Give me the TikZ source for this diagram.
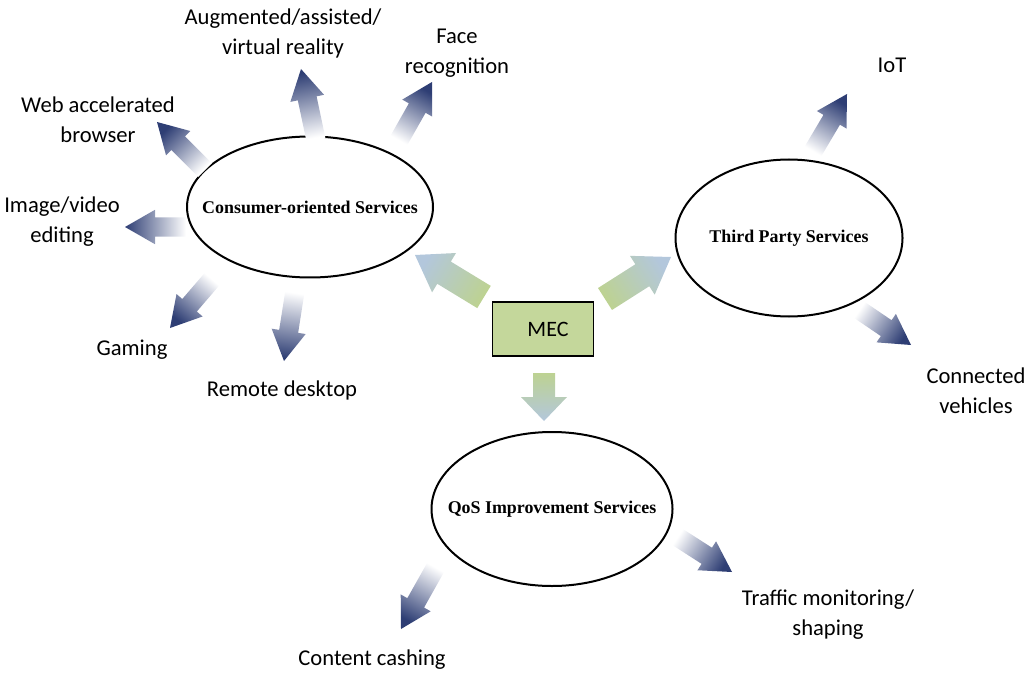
\documentclass[tikz,border=0pt]{standalone}
\usepackage{fontspec}
\setmainfont{Liberation Serif}
\newfontfamily\calfont{Carlito}
\usetikzlibrary{shapes.geometric,calc}

\definecolor{navy}{HTML}{2E3E74}
\definecolor{mecgreen}{HTML}{C4D79B}
\definecolor{arrgreen}{HTML}{BDD292}
\definecolor{arrblue}{HTML}{B3C7DC}

% block arrow from #1 (tail) to #2 (tip); #3 shaft half width, #4 head half width,
% #5 head length, #6 shading colours (bottom = tail, top = tip)
\newcommand\blockarrow[6]{%
  \pgfmathanglebetweenpoints{\pgfpointanchor{#1}{center}}{\pgfpointanchor{#2}{center}}%
  \pgfmathsetmacro\barang{\pgfmathresult-90}%
  \coordinate (#1-base) at ($(#2)!#5!(#1)$);
  \shade[#6, shading angle=\barang]
    ($(#1)!#3!90:(#2)$) -- ($(#1-base)!#3!90:(#2)$) -- ($(#1-base)!#4!90:(#2)$) -- (#2)
    -- ($(#1-base)!#4!-90:(#2)$) -- ($(#1-base)!#3!-90:(#2)$) -- ($(#1)!#3!-90:(#2)$) -- cycle;
}

\tikzset{
  lbl/.style={font=\calfont\fontsize{11.3}{15}\selectfont, align=center, inner sep=0pt},
  service/.style={ellipse, draw, line width=1pt, inner sep=0pt},
  servicetext/.style={font=\fontsize{8.95}{10}\selectfont\bfseries, inner sep=0pt},
  navyshade/.style={bottom color=white, top color=navy},
  greenshade/.style={bottom color=arrgreen, top color=arrblue},
}

\begin{document}
\begin{tikzpicture}[x=0.5pt,y=-0.5pt]
\useasboundingbox (0,0) rectangle (1026,673);

% service ellipses
\node[service, minimum width=123pt, minimum height=70.5pt,
      label={[servicetext]center:Consumer-oriented Services}] (cons) at (310,207) {};
\node[service, minimum width=113.5pt, minimum height=78.5pt,
      label={[servicetext]center:Third Party Services}] (third) at (789,238) {};
\node[service, minimum width=120.5pt, minimum height=77pt,
      label={[servicetext]center:QoS Improvement Services}] (qos) at (552,509) {};

% MEC box
\node[draw, line width=0.75pt, fill=mecgreen, minimum width=50.5pt, minimum height=27pt,
      inner sep=0pt, font=\calfont\fontsize{11}{13}\selectfont] (mec) at (543,329) {\hspace{5pt}MEC};

% labels
\node[lbl] (ar) at (283,33) {Augmented/assisted/\\virtual reality};
\node[lbl] (face) at (457,53) {Face\\recognition};
\node[lbl] (web) at (98,120) {Web accelerated\\browser};
\node[lbl] (img) at (62,222) {Image/video\\editing};
\node[lbl] (gaming) at (132,350) {Gaming};
\node[lbl] (remote) at (282,390) {Remote desktop};
\node[lbl] (iot) at (892,65) {IoT};
\node[lbl] (veh) at (976,391) {Connected\\vehicles};
\node[lbl] (traffic) at (828,615) {Traffic monitoring/\\shaping};
\node[lbl] (content) at (372,660) {Content cashing};

% arrow end points
\coordinate (g1t) at (484,297); \coordinate (g1h) at (415,255);
\coordinate (g2t) at (605,299); \coordinate (g2h) at (671,257);
\coordinate (g3t) at (544,373); \coordinate (g3h) at (544,421);

\coordinate (webt) at (205,170); \coordinate (webh) at (157,122);
\coordinate (art) at (316,140); \coordinate (arh) at (301,69);
\coordinate (facet) at (398,142); \coordinate (faceh) at (432,82);
\coordinate (imgt) at (186,227); \coordinate (imgh) at (125,227);
\coordinate (gamt) at (213,278); \coordinate (gamh) at (170,328);
\coordinate (remt) at (295,291); \coordinate (remh) at (284,361);
\coordinate (iott) at (812,153); \coordinate (ioth) at (847,94);
\coordinate (veht) at (858,309); \coordinate (vehh) at (911,345);
\coordinate (cont) at (437,565); \coordinate (conh) at (401,629);
\coordinate (trat) at (676,536); \coordinate (trah) at (732,572);

% arrows out of MEC
\blockarrow{g1t}{g1h}{6.5pt}{11.5pt}{17pt}{greenshade}
\blockarrow{g2t}{g2h}{6.5pt}{11.5pt}{17pt}{greenshade}
\blockarrow{g3t}{g3h}{5.5pt}{11.5pt}{12pt}{greenshade}

% arrows out of the services
\blockarrow{webt}{webh}{4.8pt}{8.6pt}{15pt}{navyshade}
\blockarrow{art}{arh}{4.8pt}{8.6pt}{15pt}{navyshade}
\blockarrow{facet}{faceh}{4.8pt}{8.6pt}{15pt}{navyshade}
\blockarrow{imgt}{imgh}{4.8pt}{8.6pt}{15pt}{navyshade}
\blockarrow{gamt}{gamh}{4.8pt}{8.6pt}{15pt}{navyshade}
\blockarrow{remt}{remh}{4.8pt}{8.6pt}{15pt}{navyshade}
\blockarrow{iott}{ioth}{4.8pt}{8.6pt}{15pt}{navyshade}
\blockarrow{veht}{vehh}{4.8pt}{8.6pt}{15pt}{navyshade}
\blockarrow{cont}{conh}{4.8pt}{8.6pt}{15pt}{navyshade}
\blockarrow{trat}{trah}{4.8pt}{8.6pt}{15pt}{navyshade}
\end{tikzpicture}
\end{document}
